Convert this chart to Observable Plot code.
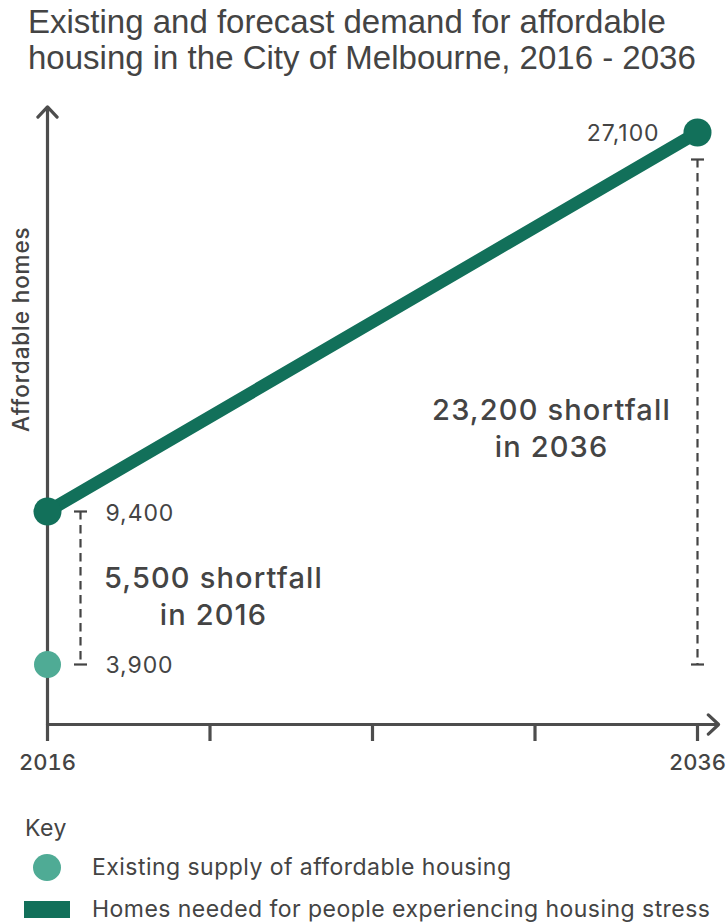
<!DOCTYPE html>
<html>
<head>
<meta charset="utf-8">
<script src="https://cdn.jsdelivr.net/npm/d3@7"></script>
<script src="https://cdn.jsdelivr.net/npm/@observablehq/plot@0.6"></script>
<style>
  html, body { margin: 0; padding: 0; background: #fff; }
  body { width: 727px; height: 923px; position: relative; overflow: hidden; font-family: Inter, "Noto Sans", sans-serif; color: #444; }
  #title { position: absolute; left: 28px; top: 4px; font-family: "Liberation Sans", Arial, sans-serif; font-size: 33px; line-height: 36px; color: #444; white-space: nowrap; }
  #chart { position: absolute; left: 0; top: 85px; }
  #chart g[aria-label="text"] text { letter-spacing: 0.04em; }
  .lg { position: absolute; font-size: 23px; line-height: 26px; letter-spacing: 0.02em; white-space: nowrap; color: #444; }
  .sw { position: absolute; }
</style>
</head>
<body>
<div id="title">Existing and forecast demand for affordable<br>housing in the City of Melbourne, 2016 - 2036</div>
<div id="chart"></div>
<div class="lg" style="left:25px; top:815px;">Key</div>
<div class="sw" id="swSupply" style="left:33px; top:854px; width:28px; height:27px; border-radius:50%;"></div>
<div class="lg" id="lgSupply" style="left:92px; top:854px;"></div>
<div class="sw" id="swNeeded" style="left:24px; top:901px; width:46px; height:17px;"></div>
<div class="lg" id="lgNeeded" style="left:92px; top:896px;"></div>
<script>
// ---- data ----
const demandYears = [2016, 2036];
const homesNeeded = [9400, 27100];
const supplyYears = [2016];
const existingSupply = [3900];
const tickYears = [2016, 2021, 2026, 2031, 2036];
const labeledYears = [2016, 2036];
const yAxisLabel = "Affordable homes";
const seriesNames = ["Existing supply of affordable housing", "Homes needed for people experiencing housing stress"];
const shortfallText = ["5,500 shortfall\nin 2016", "23,200 shortfall\nin 2036"];
// axis extents (arrow tips)
const xAxisEnd = 2036.65;
const yAxisTop = 28300;

// ---- colours ----
const darkGreen = "#12705a";
const teal = "#4fab95";
const ink = "#444";
const axisInk = "#4d4d4d";

document.getElementById("swSupply").style.background = teal;
document.getElementById("swNeeded").style.background = darkGreen;
document.getElementById("lgSupply").textContent = seriesNames[0];
document.getElementById("lgNeeded").textContent = seriesNames[1];

const fmt = d3.format(",");
const demand = demandYears.map((year, i) => ({year, homes: homesNeeded[i]}));
const supply = supplyYears.map((year, i) => ({year, homes: existingSupply[i]}));
const supplyBase = existingSupply[0];
const gaps = demand.map((d, i) => ({
  year: d.year, hi: d.homes, lo: supplyBase, mid: (d.homes + supplyBase) / 2,
  text: shortfallText[i]
}));
const axisArrows = [
  {x1: tickYears[0], y1: 0, x2: xAxisEnd, y2: 0},
  {x1: tickYears[0], y1: 0, x2: tickYears[0], y2: yAxisTop}
];

// horizontal cap symbol for dashed brackets
const capSymbol = {
  draw(context, size) {
    const r = Math.sqrt(size / Math.PI);
    context.moveTo(-r, 0);
    context.lineTo(r, 0);
  }
};

const dash = {stroke: ink, strokeWidth: 2.2, strokeDasharray: "8.5,5.5"};
const cap = {symbol: capSymbol, r: 6.5, stroke: ink, strokeWidth: 2.2, fill: "none"};

const chart = Plot.plot({
  width: 727,
  height: 700,
  marginLeft: 47,
  marginRight: 30,
  marginTop: 10,
  marginBottom: 61,
  style: {fontFamily: "Inter, 'Noto Sans', sans-serif", color: ink, background: "#fff"},
  x: {type: "linear", domain: [2016, 2036], range: [47, 697], axis: null},
  // schematic (piecewise) vertical scale, as in the original graphic
  y: {type: "linear", domain: [0, 3900, 9400, 27100], range: [639, 579, 426, 47], interpolate: d3.interpolateNumber, axis: null},
  marks: [
    Plot.axisX({
      ticks: tickYears,
      tickFormat: d => labeledYears.includes(d) ? String(d) : "",
      tickSize: 17,
      tickPadding: 13,
      strokeWidth: 3.2,
      stroke: axisInk,
      fill: ink,
      fontSize: 22,
      fontWeight: 500,
      label: null
    }),
    Plot.arrow(axisArrows, {
      x1: "x1", y1: "y1", x2: "x2", y2: "y2",
      stroke: axisInk, strokeWidth: 3.2, headAngle: 86, headLength: 6.6
    }),
    Plot.text([yAxisLabel], {
      frameAnchor: "left", rotate: -90, dx: -26, dy: 22,
      fontSize: 22.5, fill: ink, fontWeight: 500
    }),
    // dashed shortfall brackets
    Plot.ruleX(gaps.slice(0, 1), {x: "year", y1: "hi", y2: "lo", dx: 33, ...dash}),
    Plot.ruleX(gaps.slice(1), {x: "year", y1: "hi", y2: "lo", insetTop: 27, ...dash}),
    Plot.dot(gaps.slice(0, 1), {x: "year", y: "hi", dx: 33, ...cap}),
    Plot.dot(gaps.slice(0, 1), {x: "year", y: "lo", dx: 33, ...cap}),
    Plot.dot(gaps.slice(1), {x: "year", y: "hi", dy: 27, ...cap}),
    Plot.dot(gaps.slice(1), {x: "year", y: "lo", ...cap}),
    // shortfall annotations
    Plot.text(gaps.slice(0, 1), {x: "year", y: "mid", text: "text", dx: 166, dy: 7, fontSize: 29, fontWeight: 500, lineHeight: 1.26, fill: ink, textAnchor: "middle"}),
    Plot.text(gaps.slice(1), {x: "year", y: "mid", text: "text", dx: -146, dy: 46, fontSize: 29, fontWeight: 500, lineHeight: 1.26, fill: ink, textAnchor: "middle"}),
    // series
    Plot.line(demand, {x: "year", y: "homes", stroke: darkGreen, strokeWidth: 12.5, strokeLinecap: "round"}),
    Plot.dot(demand, {x: "year", y: "homes", r: 14, fill: darkGreen}),
    Plot.dot(supply, {x: "year", y: "homes", r: 13.5, fill: teal}),
    // value labels
    Plot.text(demand.slice(0, 1), {x: "year", y: "homes", text: d => fmt(d.homes), dx: 58, dy: 2, textAnchor: "start", fontSize: 23, fill: ink}),
    Plot.text(supply, {x: "year", y: "homes", text: d => fmt(d.homes), dx: 58, dy: 1, textAnchor: "start", fontSize: 23, fill: ink}),
    Plot.text(demand.slice(1), {x: "year", y: "homes", text: d => fmt(d.homes), dx: -38, dy: 1, textAnchor: "end", fontSize: 23, fill: ink})
  ]
});
document.getElementById("chart").appendChild(chart);
</script>
</body>
</html>
